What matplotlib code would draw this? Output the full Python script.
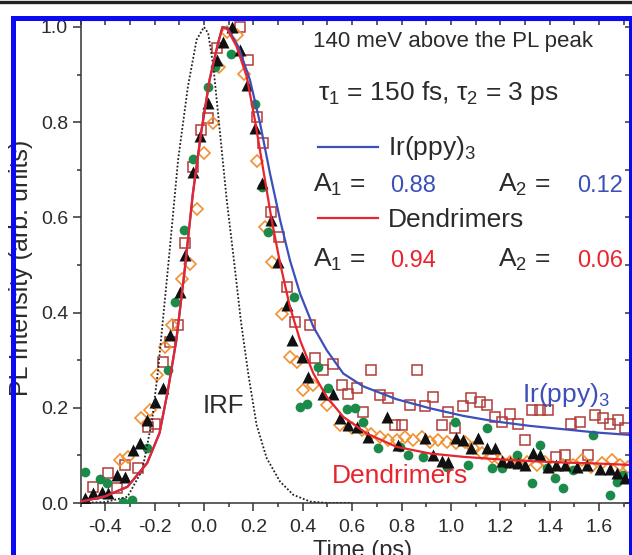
import numpy as np
import matplotlib
matplotlib.use("Agg")
import matplotlib.pyplot as plt
from matplotlib.lines import Line2D
from matplotlib.ticker import MultipleLocator, FormatStrFormatter

plt.rcParams['font.family'] = ['Liberation Sans', 'DejaVu Sans']
plt.rcParams['mathtext.fontset'] = 'custom'
plt.rcParams['mathtext.rm'] = 'Liberation Sans'
plt.rcParams['mathtext.it'] = 'Liberation Sans:italic'
plt.rcParams['axes.unicode_minus'] = False

# --- data ---
# instrument response (dotted)
irf_t = [-0.50, -0.40, -0.31, -0.25, -0.21, -0.186, -0.14, -0.105, -0.065, -0.03, 0.0,
         0.017, 0.038, 0.065, 0.092, 0.119, 0.15, 0.18, 0.213, 0.254, 0.308, 0.362, 0.43, 0.50, 0.60]
irf_y = [0.0, 0.002, 0.013, 0.069, 0.174, 0.279, 0.525, 0.72, 0.875, 0.973, 1.0,
         0.987, 0.917, 0.777, 0.637, 0.52, 0.38, 0.269, 0.164, 0.094, 0.045, 0.017, 0.003, 0.0, 0.0]

# fitted curves
fit_rise_t = [-0.50, -0.47, -0.40, -0.31, -0.23, -0.18, -0.146, -0.112, -0.078, -0.045, -0.011, 0.023, 0.057]
fit_rise_y = [0.003, 0.006, 0.014, 0.034, 0.084, 0.147, 0.237, 0.342, 0.49, 0.65, 0.78, 0.89, 0.966]

ir_t = [0.075, 0.095, 0.139, 0.186, 0.227, 0.267, 0.308, 0.348, 0.389, 0.443, 0.497, 0.564,
        0.645, 0.78, 0.915, 1.05, 1.185, 1.32, 1.455, 1.59, 1.725]
ir_y = [1.0, 0.998, 0.959, 0.889, 0.798, 0.693, 0.595, 0.51, 0.44, 0.37, 0.321, 0.272,
        0.245, 0.218, 0.199, 0.183, 0.171, 0.162, 0.155, 0.148, 0.143]

den_t = [0.075, 0.095, 0.132, 0.173, 0.206, 0.24, 0.274, 0.308, 0.348, 0.389, 0.443, 0.497,
         0.564, 0.659, 0.78, 0.915, 1.05, 1.185, 1.32, 1.455, 1.59, 1.725]
den_y = [1.0, 0.995, 0.959, 0.896, 0.805, 0.70, 0.595, 0.504, 0.412, 0.342, 0.272, 0.223,
         0.181, 0.146, 0.118, 0.104, 0.097, 0.092, 0.088, 0.085, 0.083, 0.080]

# measured points
green_t = [-0.482, -0.421, -0.394, -0.327, -0.293, -0.232, -0.146, -0.119, -0.080, -0.046,
           0.016, 0.044, 0.108, 0.206, 0.234, 0.260, 0.365, 0.389, 0.416, 0.460, 0.503,
           0.578, 0.611, 0.645, 0.706, 0.794, 0.827, 0.888, 0.982, 1.016, 1.070, 1.145,
           1.165, 1.205, 1.266, 1.327, 1.360, 1.387, 1.421, 1.455, 1.495, 1.576, 1.644,
           1.671, 1.698]
green_y = [0.066, 0.050, 0.041, 0.003, 0.006, 0.115, 0.279, 0.423, 0.574, 0.723,
           0.874, 0.916, 0.943, 0.838, 0.663, 0.569, 0.433, 0.202, 0.209, 0.285, 0.241,
           0.197, 0.200, 0.171, 0.116, 0.118, 0.101, 0.097, 0.076, 0.171, 0.080, 0.157,
           0.073, 0.073, 0.101, 0.041, 0.122, 0.073, 0.052, 0.031, 0.069, 0.143, 0.017,
           0.045, 0.059]

tri_t = [-0.482, -0.448, -0.414, -0.387, -0.353, -0.320, -0.286, -0.259, -0.232, -0.198,
         -0.165, -0.138, -0.097, -0.077, -0.043, -0.018, 0.017, 0.051, 0.078, 0.112, 0.146,
         0.173, 0.206, 0.234, 0.270, 0.301, 0.335, 0.355, 0.396, 0.422, 0.483, 0.523,
         0.551, 0.585, 0.618, 0.665, 0.740, 0.787, 0.895, 0.929, 0.962, 0.989, 1.020,
         1.050, 1.083, 1.110, 1.145, 1.178, 1.205, 1.239, 1.272, 1.300, 1.333, 1.360,
         1.394, 1.427, 1.461, 1.509, 1.549, 1.603, 1.644, 1.671, 1.705]
tri_y = [0.010, 0.020, 0.024, 0.020, 0.059, 0.055, 0.111, 0.125, 0.174, 0.213,
         0.241, 0.353, 0.444, 0.521, 0.696, 0.770, 0.840, 0.931, 0.969, 1.000, 0.952,
         0.878, 0.787, 0.673, 0.595, 0.507, 0.416, 0.342, 0.307, 0.265, 0.230, 0.230,
         0.178, 0.164, 0.160, 0.139, 0.181, 0.121, 0.136, 0.100, 0.089, 0.086, 0.136,
         0.132, 0.115, 0.136, 0.115, 0.115, 0.089, 0.086, 0.083, 0.079, 0.104, 0.100,
         0.076, 0.079, 0.079, 0.076, 0.079, 0.072, 0.072, 0.062, 0.052]

sq_t = [-0.448, -0.387, -0.353, -0.320, -0.266, -0.225, -0.198, -0.165, -0.138, -0.104,
        -0.077, -0.043, -0.012, 0.017, 0.051, 0.146, 0.180, 0.213, 0.240, 0.270, 0.303,
        0.335, 0.368, 0.429, 0.450, 0.483, 0.523, 0.557, 0.585, 0.618, 0.645, 0.678,
        0.712, 0.746, 0.773, 0.800, 0.834, 0.861, 0.895, 0.929, 0.962, 0.989, 1.016,
        1.050, 1.083, 1.117, 1.145, 1.178, 1.205, 1.239, 1.272, 1.300, 1.327, 1.360,
        1.394, 1.427, 1.461, 1.488, 1.522, 1.556, 1.583, 1.617, 1.644, 1.678, 1.705]
sq_y = [0.034, 0.062, 0.031, 0.080, 0.073, 0.160, 0.167, 0.297, 0.339, 0.374,
        0.547, 0.705, 0.784, 0.808, 0.955, 1.000, 0.931, 0.810, 0.756, 0.612, 0.559,
        0.454, 0.381, 0.374, 0.304, 0.279, 0.293, 0.248, 0.230, 0.241, 0.192, 0.279,
        0.227, 0.220, 0.164, 0.164, 0.206, 0.279, 0.203, 0.223, 0.164, 0.192, 0.157,
        0.203, 0.220, 0.213, 0.206, 0.181, 0.171, 0.188, 0.167, 0.132, 0.195, 0.195,
        0.195, 0.097, 0.101, 0.167, 0.171, 0.101, 0.185, 0.178, 0.167, 0.174, 0.157]

dia_t = [-0.341, -0.308, -0.256, -0.218, -0.189, -0.158, -0.131, -0.091, -0.058, -0.030,
         0.002, 0.036, 0.061, 0.092, 0.132, 0.162, 0.216, 0.247, 0.277, 0.314, 0.348,
         0.375, 0.402, 0.443, 0.497, 0.551, 0.598, 0.638, 0.678, 0.712, 0.746, 0.780,
         0.813, 0.847, 0.881, 0.915, 0.948, 0.982, 1.020, 1.058, 1.091, 1.125, 1.165,
         1.198, 1.239, 1.272, 1.306, 1.347, 1.380, 1.414, 1.455, 1.495, 1.529, 1.569,
         1.610, 1.651, 1.684, 1.718]
dia_y = [0.090, 0.097, 0.178, 0.195, 0.269, 0.328, 0.373, 0.470, 0.503, 0.617,
         0.735, 0.799, 0.917, 0.990, 0.983, 0.901, 0.719, 0.579, 0.507, 0.398, 0.307,
         0.297, 0.237, 0.248, 0.206, 0.164, 0.157, 0.153, 0.146, 0.139, 0.132, 0.132,
         0.139, 0.132, 0.139, 0.129, 0.132, 0.129, 0.125, 0.129, 0.115, 0.104, 0.097,
         0.090, 0.086, 0.086, 0.086, 0.080, 0.086, 0.076, 0.080, 0.080, 0.090, 0.076,
         0.083, 0.090, 0.080, 0.076]

x_ticks = [-0.4, -0.2, 0.0, 0.2, 0.4, 0.6, 0.8, 1.0, 1.2, 1.4, 1.6]
y_ticks = [0.0, 0.2, 0.4, 0.6, 0.8, 1.0]

BLUE = '#3d4fb8'
RED = '#e8242c'
GREEN = '#1c8a48'
SQ = '#b23c38'
ORANGE = '#f2902e'
INK = '#2b2b2b'

W, H = 632, 555
fig = plt.figure(figsize=(W / 100, H / 100), dpi=100)
ax = fig.add_axes([80.5 / W, 1 - 503 / H, (630 - 80.5) / W, (503 - 20) / H])

ax.plot(sq_t, sq_y, 's', mfc='none', mec=SQ, mew=1.1, ms=6.5, zorder=2)
ax.plot(dia_t, dia_y, 'D', mfc='none', mec=ORANGE, mew=1.2, ms=5.8, zorder=2)
ax.plot(green_t, green_y, 'o', color=GREEN, mec='none', ms=7, zorder=3)
ax.plot(tri_t, tri_y, '^', color='#111111', mec='none', ms=8.2, zorder=3)

ax.plot(irf_t, irf_y, color='#222222', lw=1.3, ls=(0, (1, 1.1)), zorder=4)
ax.plot(fit_rise_t + ir_t, fit_rise_y + ir_y, color=BLUE, lw=1.6, zorder=5)
ax.plot(fit_rise_t + den_t, fit_rise_y + den_y, color=RED, lw=1.6, zorder=6)

ax.set_xlim(-0.5, 1.725)
ax.set_ylim(0, 1.0147)
ax.set_xticks(x_ticks)
ax.set_yticks(y_ticks)
ax.xaxis.set_major_formatter(FormatStrFormatter('%.1f'))
ax.yaxis.set_major_formatter(FormatStrFormatter('%.1f'))
ax.xaxis.set_minor_locator(MultipleLocator(0.1))
ax.yaxis.set_minor_locator(MultipleLocator(0.1))
ax.tick_params(which='both', direction='out', color='#333333', width=1.1,
               labelsize=14, labelcolor=INK, top=False, right=False)
ax.tick_params(which='major', length=6, pad=3)
ax.tick_params(axis='x', which='major', pad=5.5)
ax.tick_params(which='minor', length=3)
for s in ax.spines.values():
    s.set_color('#333333')
    s.set_linewidth(1.1)

top = ax.secondary_xaxis('top')
top.xaxis.set_major_locator(MultipleLocator(0.1))
top.tick_params(direction='in', length=3.6, width=1.1, color='#333333', labeltop=False)
right = ax.secondary_yaxis('right')
right.yaxis.set_major_locator(MultipleLocator(0.1))
right.tick_params(direction='in', length=3.6, width=1.1, color='#333333', labelright=False)


def fxy(px, py):
    return px / W, 1 - py / H


# annotations inside the plot
fig.text(*fxy(203, 413), 'IRF', fontsize=18.5, color=INK, va='baseline')
fig.text(*fxy(522, 402), r'Ir(ppy)$_3$', fontsize=19, color=BLUE, va='baseline')
fig.text(*fxy(332, 483), 'Dendrimers', fontsize=19, color=RED, va='baseline')

# legend / parameter block
fig.text(*fxy(313, 47), '140 meV above the PL peak', fontsize=16, color=INK, va='baseline')
fig.text(*fxy(318, 100), r'τ$_1$ = 150 fs, τ$_2$ = 3 ps', fontsize=19, color=INK, va='baseline')

fig.add_artist(Line2D([318 / W, 378 / W], [1 - 147 / H] * 2, color=BLUE, lw=1.6))
fig.text(*fxy(388, 155), r'Ir(ppy)$_3$', fontsize=19, color=INK, va='baseline')
fig.text(*fxy(313, 192), r'A$_1$ =', fontsize=19, color=INK, va='baseline')
fig.text(*fxy(390, 192), '0.88', fontsize=17, color=BLUE, va='baseline')
fig.text(*fxy(498, 192), r'A$_2$ =', fontsize=19, color=INK, va='baseline')
fig.text(*fxy(577, 192), '0.12', fontsize=17, color=BLUE, va='baseline')

fig.add_artist(Line2D([318 / W, 378 / W], [1 - 218 / H] * 2, color=RED, lw=1.6))
fig.text(*fxy(388, 227), 'Dendrimers', fontsize=19, color=INK, va='baseline')
fig.text(*fxy(313, 267), r'A$_1$ =', fontsize=19, color=INK, va='baseline')
fig.text(*fxy(390, 267), '0.94', fontsize=17, color=RED, va='baseline')
fig.text(*fxy(498, 267), r'A$_2$ =', fontsize=19, color=INK, va='baseline')
fig.text(*fxy(577, 267), '0.06', fontsize=17, color=RED, va='baseline')

# axis labels (partly cut by the frame / image edge, as in the original)
fig.text(*fxy(21, 268), 'PL Intensity (arb. units)', fontsize=18, color=INK,
         rotation=90, ha='center', va='center')
fig.text(*fxy(363, 557), 'Time (ps)', fontsize=17, color=INK, ha='center', va='baseline')

# blue frame and black rule at the top
frame = dict(color='#0a0af5', lw=3.6, solid_capstyle='projecting', zorder=20)
fig.add_artist(Line2D([12.5 / W, 12.5 / W], [1 - 17.5 / H, -0.02], **frame))
fig.add_artist(Line2D([12.5 / W, 1.02], [1 - 17.5 / H] * 2, **frame))
fig.add_artist(Line2D([631 / W, 631 / W], [1 - 17.5 / H, -0.02], **frame))
fig.add_artist(Line2D([0, 1], [1 - 1.5 / H] * 2, color='#222222', lw=2.4, zorder=20))

fig.savefig('out.png', dpi=100)
